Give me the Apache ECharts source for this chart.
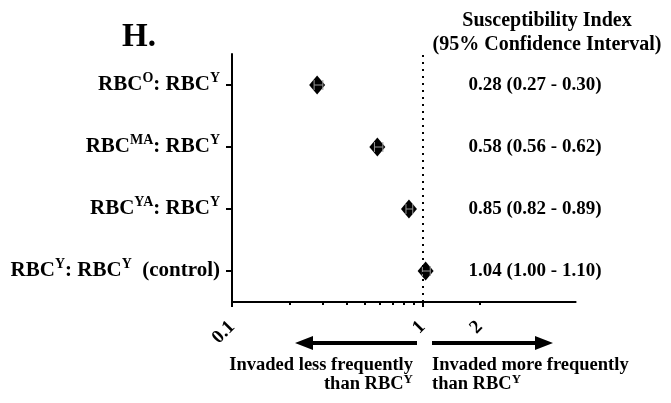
<!DOCTYPE html>
<html>
<head>
<meta charset="utf-8">
<script src="https://cdn.jsdelivr.net/npm/echarts@6/dist/echarts.min.js"></script>
<style>
  html, body { margin: 0; padding: 0; background: #fff; }
  #chart { width: 671px; height: 403px; }
</style>
</head>
<body>
<div id="chart"></div>
<script>
// rows, bottom to top
var groups = [
  'RBC{s|Y}: RBC{s|Y}  (control)',
  'RBC{s|YA}: RBC{s|Y}',
  'RBC{s|MA}: RBC{s|Y}',
  'RBC{s|O}: RBC{s|Y}'
];
var ratios = [1.04, 0.85, 0.58, 0.28];
var ciLow  = [1.00, 0.82, 0.56, 0.27];
var ciHigh = [1.10, 0.89, 0.62, 0.30];

var majorTicks = [0.1, 1];
var minorTicks = [0.2, 0.3, 0.4, 0.5, 0.6, 0.7, 0.8, 0.9, 2];
var tickLabels = [0.1, 1, 2];

var FONT = "'Liberation Serif', 'Times New Roman', serif";

var ciText = ratios.map(function (r, i) {
  return r.toFixed(2) + ' (' + ciLow[i].toFixed(2) + ' - ' + ciHigh[i].toFixed(2) + ')';
});

var supStyle = { fontSize: 14, fontWeight: 'bold', fontFamily: FONT, color: '#000', verticalAlign: 'top', lineHeight: 28 };

var myChart = echarts.init(document.getElementById('chart'));

var option = {
  animation: false,
  title: [
    {
      text: 'H.', left: 117, top: 16,
      textStyle: { fontSize: 33, fontWeight: 'bold', fontFamily: FONT, color: '#000' }
    },
    {
      text: 'Susceptibility Index\n(95% Confidence Interval)', left: 542, top: 4, textAlign: 'center',
      textStyle: { fontSize: 20, lineHeight: 24, fontWeight: 'bold', fontFamily: FONT, color: '#000' }
    }
  ],
  grid: { left: 232, right: 95.4, top: 54, bottom: 101 },
  xAxis: [
    {
      type: 'log', min: 0.1, max: 6.38, position: 'bottom',
      axisLine: { show: true, lineStyle: { color: '#000', width: 2 } },
      axisTick: { show: true, customValues: majorTicks, length: 5, lineStyle: { width: 2, color: '#000' } },
      axisLabel: {
        customValues: tickLabels, rotate: 45, margin: 22,
        fontSize: 19, fontWeight: 'bold', fontFamily: FONT, color: '#000',
        formatter: function (v) { return String(+(+v).toPrecision(3)); }
      },
      splitLine: { show: false }
    },
    {
      type: 'log', min: 0.1, max: 6.38, position: 'bottom',
      axisLine: { show: false },
      axisTick: { show: true, customValues: minorTicks, length: 3, lineStyle: { width: 2, color: '#000' } },
      axisLabel: { show: false },
      splitLine: { show: false }
    }
  ],
  yAxis: [
    {
      type: 'category', data: groups,
      axisLine: { show: true, lineStyle: { color: '#000', width: 2 } },
      axisTick: { show: true, alignWithLabel: true, length: 6, lineStyle: { width: 2, color: '#000' } },
      axisLabel: {
        margin: 12, fontSize: 21, lineHeight: 28, fontWeight: 'bold', fontFamily: FONT, color: '#000',
        rich: { s: supStyle }
      }
    },
    {
      type: 'category', data: ciText, position: 'right',
      axisLine: { show: false }, axisTick: { show: false },
      axisLabel: {
        margin: -40.6, align: 'center',
        fontSize: 19, fontWeight: 'bold', fontFamily: FONT, color: '#000'
      }
    }
  ],
  series: [
    {
      type: 'scatter',
      symbol: 'diamond',
      symbolSize: [16, 19],
      itemStyle: { color: '#000', opacity: 1 },
      data: ratios.map(function (r, i) { return [r, i]; }),
      markLine: {
        silent: true, symbol: 'none',
        label: { show: false },
        lineStyle: { color: '#000', width: 2, type: [2, 5] },
        data: [{ xAxis: 1 }]
      },
      z: 3
    },
    {
      type: 'custom',
      data: ciLow.map(function (lo, i) { return [lo, ciHigh[i], i]; }),
      encode: { x: [0, 1], y: 2 },
      renderItem: function (params, api) {
        var a = api.coord([api.value(0), api.value(2)]);
        var b = api.coord([api.value(1), api.value(2)]);
        var h = 5;
        var st = { stroke: '#999', lineWidth: 1 };
        return {
          type: 'group',
          children: [
            { type: 'line', shape: { x1: a[0], y1: a[1], x2: b[0], y2: b[1] }, style: st },
            { type: 'line', shape: { x1: a[0], y1: a[1] - h, x2: a[0], y2: a[1] + h }, style: st },
            { type: 'line', shape: { x1: b[0], y1: b[1] - h, x2: b[0], y2: b[1] + h }, style: st }
          ]
        };
      },
      z: 4
    }
  ],
  graphic: [
    // left arrow
    {
      type: 'polygon',
      shape: { points: [[417, 341], [313, 341], [313, 336], [295, 343], [313, 350], [313, 345], [417, 345]] },
      style: { fill: '#000' }
    },
    // right arrow
    {
      type: 'polygon',
      shape: { points: [[432, 341], [535, 341], [535, 336], [553, 343], [535, 350], [535, 345], [432, 345]] },
      style: { fill: '#000' }
    },
    {
      type: 'text', x: 413, y: 365.5,
      style: { text: 'Invaded less frequently', align: 'right', verticalAlign: 'middle',
        fontSize: 18.5, fontWeight: 'bold', fontFamily: FONT, fill: '#000' }
    },
    {
      type: 'text', x: 413, y: 384,
      style: { text: 'than RBC{s|Y}', align: 'right', verticalAlign: 'middle', lineHeight: 22,
        fontSize: 18.5, fontWeight: 'bold', fontFamily: FONT, fill: '#000',
        rich: { s: { fontSize: 13, fontWeight: 'bold', fontFamily: FONT, fill: '#000', verticalAlign: 'top', lineHeight: 22 } } }
    },
    {
      type: 'text', x: 432, y: 365.5,
      style: { text: 'Invaded more frequently', align: 'left', verticalAlign: 'middle',
        fontSize: 18.5, fontWeight: 'bold', fontFamily: FONT, fill: '#000' }
    },
    {
      type: 'text', x: 432, y: 384,
      style: { text: 'than RBC{s|Y}', align: 'left', verticalAlign: 'middle', lineHeight: 22,
        fontSize: 18.5, fontWeight: 'bold', fontFamily: FONT, fill: '#000',
        rich: { s: { fontSize: 13, fontWeight: 'bold', fontFamily: FONT, fill: '#000', verticalAlign: 'top', lineHeight: 22 } } }
    }
  ]
};

myChart.setOption(option);
</script>
</body>
</html>
